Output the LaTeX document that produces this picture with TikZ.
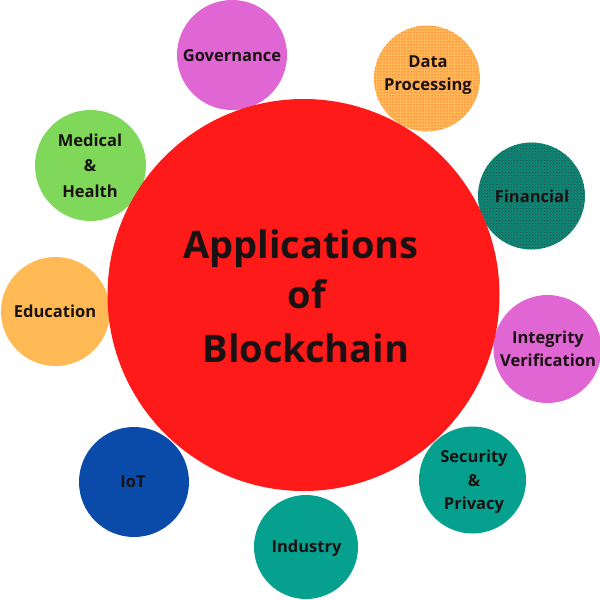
\documentclass[tikz,border=0pt]{standalone}
\usepackage{fontspec}
\setmainfont{Open Sans}
\usetikzlibrary{patterns}
\definecolor{bigred}{HTML}{FF1A1A}
\definecolor{pinkc}{HTML}{E066D3}
\definecolor{greenc}{HTML}{7FD85A}
\definecolor{orangec}{HTML}{FFB955}
\definecolor{dotred}{HTML}{FF1E1E}
\definecolor{tealc}{HTML}{05A08E}
\definecolor{darkteal}{HTML}{0B8C7A}
\definecolor{bluec}{HTML}{0A4BAA}
\definecolor{inkc}{HTML}{1A1212}
\tikzset{
  bubble/.style={circle, draw=none, inner sep=0pt},
  lbl/.style={anchor=base, inner sep=0pt, text=inkc, font=\fontsize{16.5}{20}\selectfont\bfseries},
  big/.style={anchor=base, inner sep=0pt, text=inkc, font=\fontsize{38}{46}\selectfont\bfseries}
}
\begin{document}
\begin{tikzpicture}[x=1pt,y=-1pt]
\useasboundingbox (0,0) rectangle (600,600);
% small circles
\node[bubble, fill=pinkc, minimum size=110pt] (gov) at (232,55) {};
\node[bubble, fill=orangec, minimum size=106pt, postaction={pattern=dots, pattern color=dotred}] (dat) at (427,78.5) {};
\node[bubble, fill=greenc, minimum size=111pt] (med) at (90.5,165.5) {};
\node[bubble, fill=darkteal, minimum size=107pt, postaction={pattern=crosshatch dots, pattern color=black!80}] (fin) at (531.5,196) {};
\node[bubble, fill=orangec, minimum size=109pt] (edu) at (55.5,311.5) {};
\node[bubble, fill=pinkc, minimum size=108pt] (int) at (547.5,349) {};
\node[bubble, fill=bluec, minimum size=110pt] (iot) at (134,482) {};
\node[bubble, fill=tealc, minimum size=107pt] (sec) at (472.5,480) {};
\node[bubble, fill=tealc, minimum size=104pt] (ind) at (306,547) {};
% big circle
\node[bubble, fill=bigred, minimum size=392pt] (main) at (303.5,295) {};
% main text
\node[big] (t1) at (301,258) {Applications};
\node[big] (t2) at (307,308) {of};
\node[big] (t3) at (306,362) {Blockchain};
% labels
\node[lbl] (l-gov) at (232,61) {Governance};
\node[lbl] (l-dat1) at (428,67) {Data};
\node[lbl] (l-dat2) at (428,90) {Processing};
\node[lbl] (l-med1) at (90,146) {Medical};
\node[lbl] (l-med2) at (90,171) {\&};
\node[lbl] (l-med3) at (90,197) {Health};
\node[lbl] (l-fin) at (532,202) {Financial};
\node[lbl] (l-edu) at (55,317) {Education};
\node[lbl] (l-int1) at (548,343) {Integrity};
\node[lbl] (l-int2) at (548,366) {Verification};
\node[lbl] (l-iot) at (133,487) {IoT};
\node[lbl] (l-sec1) at (474,462) {Security};
\node[lbl] (l-sec2) at (474,486) {\&};
\node[lbl] (l-sec3) at (474,509) {Privacy};
\node[lbl] (l-ind) at (306.5,552) {Industry};
\end{tikzpicture}
\end{document}
